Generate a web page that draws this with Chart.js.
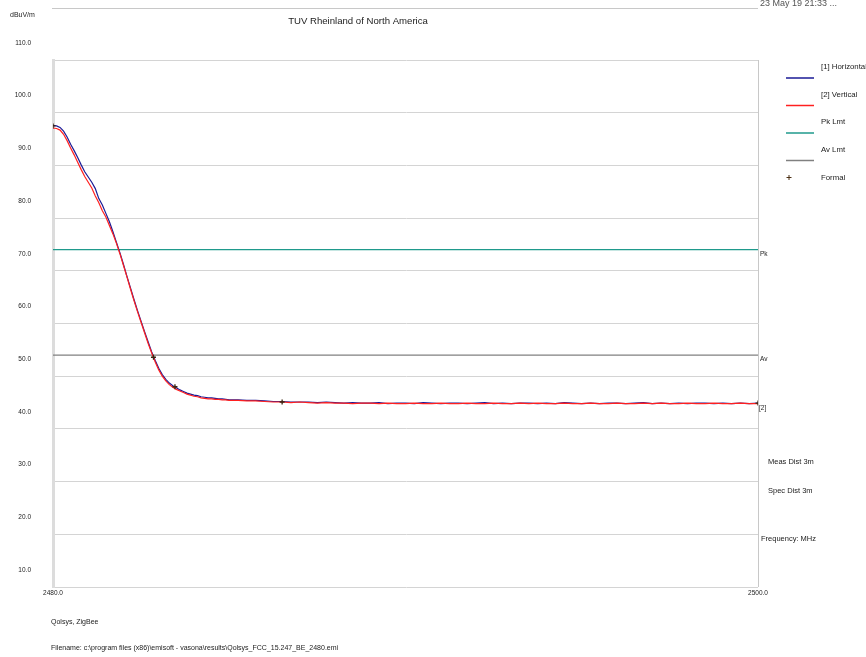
<!DOCTYPE html>
<html>
<head>
<meta charset="utf-8">
<title>TUV Rheinland of North America</title>
<script src="https://cdn.jsdelivr.net/npm/chart.js@4"></script>
<style>
  html, body { margin: 0; padding: 0; background: #fff; }
  #wrap { width: 866px; height: 657px; }
</style>
</head>
<body>
<div id="wrap"><canvas id="emiChart" width="866" height="657"></canvas></div>
<script>
// sweep frequencies (MHz)
const freqs = [
  2480.0, 2480.1, 2480.2, 2480.3, 2480.4, 2480.5, 2480.6, 2480.7, 2480.8, 2480.9,
  2481.0, 2481.1, 2481.2, 2481.3, 2481.4, 2481.5, 2481.6, 2481.7, 2481.8, 2481.9,
  2482.0, 2482.1, 2482.2, 2482.3, 2482.4, 2482.5, 2482.6, 2482.7, 2482.8, 2482.9,
  2483.0, 2483.1, 2483.2, 2483.3, 2483.4, 2483.5, 2483.6, 2483.7, 2483.8, 2483.9,
  2484.0, 2484.1, 2484.2, 2484.3, 2484.4, 2484.5, 2484.6, 2484.7, 2484.8, 2484.9,
  2485.0,
  2485.25, 2485.5, 2485.75, 2486.0, 2486.25, 2486.5, 2486.75, 2487.0, 2487.25, 2487.5,
  2487.75, 2488.0, 2488.25, 2488.5, 2488.75, 2489.0, 2489.25, 2489.5, 2489.75, 2490.0,
  2490.25, 2490.5, 2490.75, 2491.0, 2491.25, 2491.5, 2491.75, 2492.0, 2492.25, 2492.5,
  2492.75, 2493.0, 2493.25, 2493.5, 2493.75, 2494.0, 2494.25, 2494.5, 2494.75, 2495.0,
  2495.25, 2495.5, 2495.75, 2496.0, 2496.25, 2496.5, 2496.75, 2497.0, 2497.25, 2497.5,
  2497.75, 2498.0, 2498.25, 2498.5, 2498.75, 2499.0, 2499.25, 2499.5, 2499.75, 2500.0
];

// [1] Horizontal, dBuV/m
const horizontal = [
  97.6, 97.5, 97.2, 96.5, 95.4, 94.0, 92.8, 91.5, 90.1, 88.8,
  87.8, 86.8, 85.6, 83.7, 82.5, 80.9, 79.3, 77.4, 75.4, 73.4,
  71.2, 68.9, 66.7, 64.5, 62.4, 60.4, 58.4, 56.5, 54.6, 53.0,
  51.5, 50.3, 49.4, 48.7, 48.2, 47.8, 47.4, 47.1, 46.8, 46.6,
  46.4, 46.3, 46.1, 46.0, 45.9, 45.9, 45.8, 45.7, 45.7, 45.6,
  45.5,
  45.5, 45.4, 45.4, 45.3, 45.2, 45.2, 45.1, 45.1, 45.1, 45.0,
  45.1, 45.0, 44.9, 45.0, 44.9, 44.9, 45.0, 44.8, 44.9, 44.9,
  44.8, 45.0, 44.9, 44.8, 44.9, 44.9, 44.8, 44.9, 45.0, 44.8,
  44.9, 44.8, 44.9, 44.9, 44.8, 44.9, 44.8, 45.0, 44.9, 44.8,
  44.9, 44.8, 44.9, 44.9, 44.8, 44.9, 45.0, 44.8, 44.9, 44.8,
  44.9, 44.8, 44.9, 44.9, 44.8, 44.9, 44.8, 44.9, 44.8, 44.9
];

// [2] Vertical, dBuV/m
const vertical = [
  97.1, 97.0, 96.7, 95.9, 94.7, 93.3, 92.0, 90.6, 89.2, 87.9,
  86.8, 85.7, 84.2, 82.9, 81.4, 80.2, 78.6, 77.0, 75.2, 73.2,
  71.0, 68.8, 66.5, 64.3, 62.2, 60.2, 58.2, 56.2, 54.4, 52.7,
  51.2, 50.0, 49.1, 48.4, 47.9, 47.5, 47.2, 46.9, 46.6, 46.4,
  46.2, 46.1, 45.9, 45.8, 45.7, 45.7, 45.6, 45.6, 45.5, 45.5,
  45.4,
  45.4, 45.3, 45.3, 45.2, 45.1, 45.1, 45.0, 45.1, 45.0, 44.9,
  45.0, 44.9, 44.9, 44.8, 44.9, 44.9, 44.8, 44.9, 44.8, 44.8,
  44.9, 44.8, 44.8, 44.9, 44.8, 44.8, 44.9, 44.8, 44.8, 44.9,
  44.8, 44.8, 44.9, 44.8, 44.9, 44.8, 44.8, 44.9, 44.8, 44.8,
  44.9, 44.8, 44.8, 44.9, 44.8, 44.8, 44.9, 44.8, 44.9, 44.8,
  44.8, 44.9, 44.8, 44.8, 44.9, 44.8, 44.8, 44.9, 44.8, 44.8
];

// limit lines
const pkLimit = 74;
const avLimit = 54;

// formal measurement points
const formalFreqs = [2480.0, 2482.85, 2483.46, 2486.5, 2500.0];
const formalLevels = [97.5, 53.6, 48.0, 45.1, 44.9];

const xTicks = [2480, 2500];
const yMin = 10, yMax = 110, yStep = 10;

const FONT = "'Liberation Sans', Arial, sans-serif";
const TXT = '#222';

const toPoints = (xs, ys) => xs.map((x, i) => ({ x: x, y: ys[i] }));
const flat = v => [{ x: xTicks[0], y: v }, { x: xTicks[xTicks.length - 1], y: v }];

// header, footer, side notes and the legend box
const decorations = {
  id: 'decorations',
  afterDraw(chart) {
    const ctx = chart.ctx;
    const area = chart.chartArea;
    const y = chart.scales.y;
    ctx.save();
    ctx.fillStyle = TXT;

    // top rule and timestamp (runs off the top edge)
    ctx.strokeStyle = '#c8c8c8';
    ctx.lineWidth = 1;
    ctx.beginPath();
    ctx.moveTo(area.left - 1, 8.5);
    ctx.lineTo(area.right, 8.5);
    ctx.stroke();
    ctx.font = '9px ' + FONT;
    ctx.textAlign = 'left';
    ctx.textBaseline = 'alphabetic';
    ctx.fillStyle = '#555';
    ctx.fillText('23 May 19 21:33 ...', 760, 6);

    ctx.fillStyle = TXT;
    ctx.textBaseline = 'middle';
    ctx.font = '7px ' + FONT;
    ctx.fillText('dBuV/m', 10, 15);

    ctx.font = '9.6px ' + FONT;
    ctx.textAlign = 'center';
    ctx.fillText('TUV Rheinland of North America', 358, 21);

    // trace tags on the right edge
    ctx.textAlign = 'left';
    ctx.font = '6.5px ' + FONT;
    ctx.fillText('Pk', area.right + 2, y.getPixelForValue(pkLimit) + 4);
    ctx.fillText('Av', area.right + 2, y.getPixelForValue(avLimit) + 4);
    ctx.fillText('[2]', area.right + 1, y.getPixelForValue(vertical[vertical.length - 1]) + 5);

    ctx.font = '7.5px ' + FONT;
    ctx.fillText('Meas Dist 3m', 768, 462);
    ctx.fillText('Spec Dist 3m', 768, 491);
    ctx.fillText('Frequency: MHz', 761, 539);

    ctx.font = '7px ' + FONT;
    ctx.fillText('Qolsys, ZigBee', 51, 622);
    ctx.fillText('Filename: c:\\program files (x86)\\emisoft - vasona\\results\\Qolsys_FCC_15.247_BE_2480.emi', 51, 648);

    // legend
    ctx.font = '7.8px ' + FONT;
    const rows = ['[1] Horizontal', '[2] Vertical', 'Pk Lmt', 'Av Lmt'];
    rows.forEach((name, i) => {
      const ds = chart.data.datasets.find(d => d.label === name);
      const ty = 67 + i * 27.5;
      ctx.fillStyle = TXT;
      ctx.fillText(name, 821, ty);
      ctx.strokeStyle = ds.borderColor;
      ctx.lineWidth = 1.5;
      ctx.beginPath();
      ctx.moveTo(786, ty + 11);
      ctx.lineTo(814, ty + 11);
      ctx.stroke();
    });
    const fy = 177.5;
    ctx.fillStyle = TXT;
    ctx.fillText('Formal', 821, fy);
    ctx.strokeStyle = '#4a2e12';
    ctx.lineWidth = 1;
    ctx.beginPath();
    ctx.moveTo(786.5, fy); ctx.lineTo(791.5, fy);
    ctx.moveTo(789, fy - 2.5); ctx.lineTo(789, fy + 2.5);
    ctx.stroke();
    ctx.restore();
  }
};

const ctx = document.getElementById('emiChart').getContext('2d');
window.emiChart = new Chart(ctx, {
  type: 'line',
  data: {
    datasets: [
      {
        label: 'Formal',
        data: toPoints(formalFreqs, formalLevels),
        showLine: false,
        pointStyle: 'cross',
        pointRadius: 2.5,
        pointBorderWidth: 1.3,
        borderColor: '#3a2410',
        backgroundColor: '#3a2410',
        order: 0
      },
      {
        label: '[1] Horizontal',
        data: toPoints(freqs, horizontal),
        borderColor: '#1a1a96',
        borderWidth: 1.2,
        pointRadius: 0,
        order: 2
      },
      {
        label: '[2] Vertical',
        data: toPoints(freqs, vertical),
        borderColor: '#ff2020',
        borderWidth: 1.2,
        pointRadius: 0,
        order: 1
      },
      {
        label: 'Pk Lmt',
        data: flat(pkLimit),
        borderColor: '#1f9a8c',
        borderWidth: 1.2,
        pointRadius: 0,
        order: 3
      },
      {
        label: 'Av Lmt',
        data: flat(avLimit),
        borderColor: '#808080',
        borderWidth: 1.2,
        pointRadius: 0,
        order: 3
      }
    ]
  },
  options: {
    responsive: false,
    animation: false,
    layout: { padding: { top: 60, right: 108, bottom: 0, left: 0 } },
    plugins: {
      legend: { display: false },
      tooltip: { enabled: false }
    },
    scales: {
      x: {
        type: 'linear',
        min: xTicks[0],
        max: xTicks[xTicks.length - 1],
        afterBuildTicks: s => { s.ticks = xTicks.map(v => ({ value: v })); },
        afterFit: s => { s.height = 70; },
        grid: { color: '#c8c8c8', drawTicks: false },
        border: { display: false },
        ticks: {
          autoSkip: false,
          maxRotation: 0,
          padding: 2,
          color: TXT,
          font: { family: FONT, size: 6.5 },
          callback: v => Number(v).toFixed(1)
        }
      },
      y: {
        min: yMin,
        max: yMax,
        afterFit: s => { s.width = 53; },
        grid: { color: '#d4d4d4', drawTicks: false },
        border: { color: '#dcdcdc', width: 3 },
        ticks: {
          stepSize: yStep,
          labelOffset: -17,
          padding: 22,
          color: TXT,
          font: { family: FONT, size: 6.5 },
          callback: v => Number(v).toFixed(1)
        }
      }
    }
  },
  plugins: [decorations]
});
</script>
</body>
</html>
